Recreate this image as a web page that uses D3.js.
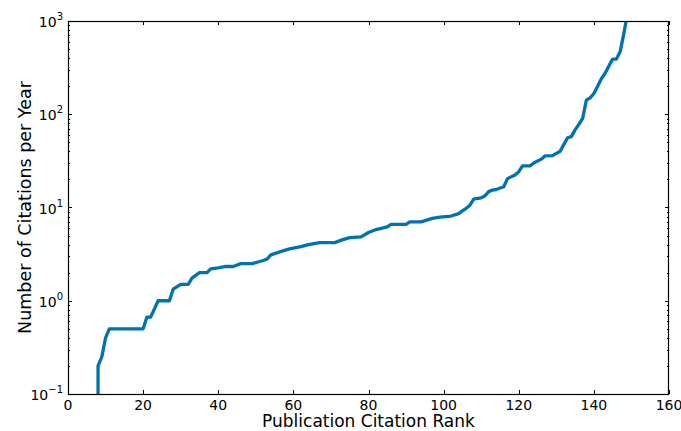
<!DOCTYPE html>
<html>
<head>
<meta charset="utf-8">
<script src="https://cdn.jsdelivr.net/npm/d3@7"></script>
<style>
  body { margin: 0; background: #fff; }
  text { font-family: "DejaVu Sans", sans-serif; fill: #000; }
</style>
</head>
<body>
<script>
"use strict";

// publication citation rank and citations per year
var ranks = [8, 8, 9, 10, 11, 20, 21, 22, 24, 27, 28, 30, 32, 33, 35, 37, 38, 40, 42, 44,
             46, 49, 52, 53, 54, 56, 57, 59, 62, 64, 67, 71, 73, 75, 78, 80, 82, 85, 86, 90,
             91, 94, 97, 99, 102, 104, 105, 106, 107, 108, 110, 111, 112, 113, 114, 116, 117, 119, 120, 121,
             123, 124, 126, 127, 129, 130, 131, 133, 134, 135, 136, 137, 138, 139, 140, 141, 142, 143, 144, 145,
             146, 147, 148, 149];
var cites = [0.05, 0.2, 0.25, 0.4, 0.5, 0.5, 0.667, 0.667, 1.0, 1.0, 1.33, 1.5, 1.5, 1.75, 2.0, 2.0, 2.2, 2.25, 2.33, 2.33,
             2.5, 2.5, 2.7, 2.8, 3.1, 3.3, 3.4, 3.6, 3.8, 4.0, 4.2, 4.2, 4.5, 4.75, 4.85, 5.4, 5.8, 6.2, 6.6, 6.6,
             7.0, 7.0, 7.65, 7.9, 8.1, 8.6, 9.2, 9.8, 10.6, 12.3, 12.7, 13.3, 14.8, 15.4, 15.6, 16.7, 20.4, 22.3, 24.2, 28,
             28, 30, 33, 35.7, 36, 38, 40, 56, 57.5, 68, 78, 90, 142, 150, 167, 200, 240, 275, 330, 390,
             390, 470, 740, 1250];

var xTicks = [0, 20, 40, 60, 80, 100, 120, 140, 160];
var yDecades = [-1, 0, 1, 2, 3];

var width = 681;
var height = 431;
var margin = { top: 21, left: 68, right: 12, bottom: 37 };

var svg = d3.select("body").append("svg")
  .attr("width", width)
  .attr("height", height);

var xScale = d3.scaleLinear()
  .domain([0, 160])
  .range([margin.left, width - margin.right]);

var yScale = d3.scaleLog()
  .domain([0.1, 1000])
  .range([height - margin.bottom, margin.top]);

var data = ranks.map(function(r, i) { return { x: r, y: cites[i] }; });

svg.append("clipPath").attr("id", "plotClip")
  .append("rect")
  .attr("x", margin.left)
  .attr("y", margin.top)
  .attr("width", xScale(160) - xScale(0))
  .attr("height", yScale(0.1) - yScale(1000));

var line = d3.line()
  .x(function(d) { return xScale(d.x); })
  .y(function(d) { return yScale(d.y); });

svg.append("path")
  .datum(data)
  .attr("clip-path", "url(#plotClip)")
  .attr("fill", "none")
  .attr("stroke", "#0072b2")
  .attr("stroke-width", 3.3)
  .attr("stroke-linejoin", "round")
  .attr("d", line);

// ticks pointing inward on all four sides
var minorVals = [];
yDecades.slice(0, -1).forEach(function(e) {
  for (var k = 2; k <= 9; k++) minorVals.push(k * Math.pow(10, e));
});
var majorVals = yDecades.map(function(e) { return Math.pow(10, e); });

var x0 = xScale(0), x1 = xScale(160), y0 = yScale(0.1), y1 = yScale(1000);

var ticks = svg.append("g").attr("stroke", "#000").attr("stroke-width", 1);

xTicks.forEach(function(t) {
  var x = Math.round(xScale(t)) + 0.5;
  ticks.append("line").attr("x1", x).attr("x2", x).attr("y1", y0).attr("y2", y0 - 4);
  ticks.append("line").attr("x1", x).attr("x2", x).attr("y1", y1).attr("y2", y1 + 4);
});
majorVals.forEach(function(v) {
  var y = Math.round(yScale(v)) + 0.5;
  ticks.append("line").attr("x1", x0).attr("x2", x0 + 4).attr("y1", y).attr("y2", y);
  ticks.append("line").attr("x1", x1).attr("x2", x1 - 4).attr("y1", y).attr("y2", y);
});
minorVals.forEach(function(v) {
  var y = Math.round(yScale(v)) + 0.5;
  ticks.append("line").attr("x1", x0).attr("x2", x0 + 2).attr("y1", y).attr("y2", y);
  ticks.append("line").attr("x1", x1).attr("x2", x1 - 2).attr("y1", y).attr("y2", y);
});

// frame
svg.append("rect")
  .attr("x", x0 + 0.5).attr("y", y1 + 0.5)
  .attr("width", x1 - x0 - 1).attr("height", y0 - y1)
  .attr("fill", "none").attr("stroke", "#000").attr("stroke-width", 1.2);

// tick labels
svg.append("g").selectAll("text")
  .data(xTicks)
  .enter().append("text")
  .attr("x", function(d) { return xScale(d); })
  .attr("y", y0 + 15.5)
  .attr("text-anchor", "middle")
  .style("font-size", "14px")
  .text(function(d) { return d; });

var yLab = svg.append("g").selectAll("text")
  .data(yDecades)
  .enter().append("text")
  .attr("x", x0 - 5)
  .attr("y", function(d) { return yScale(Math.pow(10, d)) + 6; })
  .attr("text-anchor", "end")
  .style("font-size", "14px");
yLab.append("tspan").text("10");
yLab.append("tspan")
  .attr("dy", -7)
  .style("font-size", "10px")
  .text(function(d) { return d < 0 ? "\u2212" + Math.abs(d) : d; });

// axis titles
svg.append("text")
  .attr("x", (x0 + x1) / 2)
  .attr("y", height - 4)
  .attr("text-anchor", "middle")
  .style("font-size", "17px")
  .text("Publication Citation Rank");

svg.append("text")
  .attr("transform", "translate(31," + ((y0 + y1) / 2) + ") rotate(-90)")
  .attr("text-anchor", "middle")
  .style("font-size", "17.5px")
  .text("Number of Citations per Year");
</script>
</body>
</html>
